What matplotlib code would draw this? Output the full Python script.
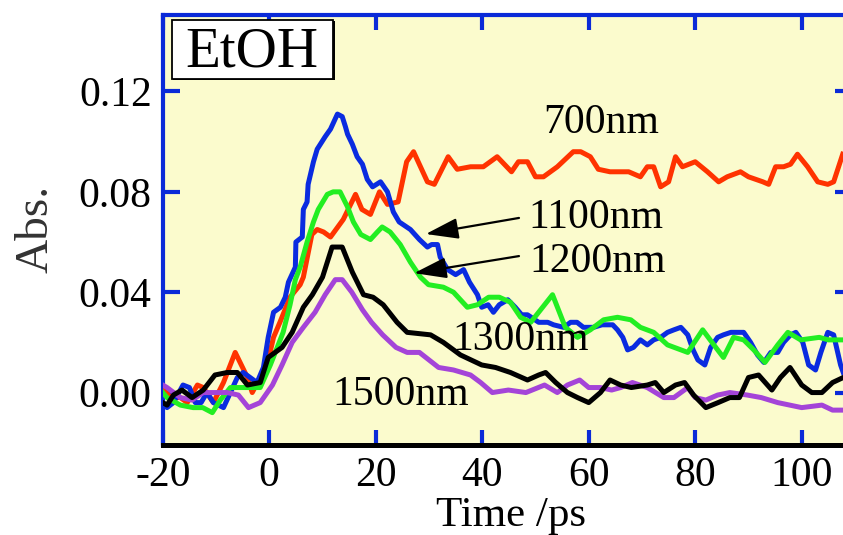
import matplotlib
matplotlib.use("Agg")
import matplotlib.pyplot as plt
from matplotlib.patches import Rectangle

plt.rcParams['font.family'] = ['Liberation Serif', 'DejaVu Serif']

# ---------------- data ----------------
t_700 = [-20, -18.6, -16.7, -15.4, -13.5, -12.4, -10.5, -8.6, -6.4, -4.1, -3.2, -1.7, -0.4, 0.8, 2.0,
         3.9, 5.8, 6.4, 8.0, 9.0, 10.2, 11.5, 13.9, 16.2, 17.4, 19.0, 20.7, 22.2, 24.2, 25.8, 27.1,
         29.7, 31.0, 33.6, 35.3, 37.8, 40.2, 42.8, 45.5, 46.8, 48.5, 50.0, 51.5, 54.1, 57.1, 58.5,
         60.3, 61.8, 64.0, 67.5, 69.7, 71.0, 72.2, 73.5, 75.0, 76.3, 77.6, 80.0, 82.3, 84.4, 86.0,
         88.5, 90.0, 92.7, 93.8, 95.1, 96.6, 97.9, 99.2, 101.1, 103.0, 104.9, 106.0, 107.7]
a_700 = [0.002, -0.002, -0.002, -0.004, 0.003, 0.002, -0.004, 0.004, 0.016, 0.006, 0.000, 0.006, 0.011,
         0.022, 0.028, 0.038, 0.043, 0.046, 0.063, 0.065, 0.064, 0.062, 0.069, 0.079, 0.073, 0.071,
         0.080, 0.075, 0.076, 0.092, 0.096, 0.084, 0.083, 0.094, 0.089, 0.090, 0.090, 0.094, 0.088,
         0.092, 0.092, 0.086, 0.086, 0.090, 0.096, 0.096, 0.094, 0.089, 0.088, 0.088, 0.086, 0.090,
         0.090, 0.082, 0.084, 0.094, 0.090, 0.092, 0.088, 0.084, 0.086, 0.088, 0.086, 0.084, 0.083,
         0.090, 0.090, 0.091, 0.095, 0.090, 0.084, 0.083, 0.084, 0.095]

t_1100 = [-20, -19.2, -18.0, -16.2, -15.0, -13.9, -12.8, -11.7, -10.5, -8.6, -7.3, -6.0, -4.9, -3.6,
          -2.3, -1.1, -0.2, 0.8, 2.1, 3.0, 3.6, 4.9, 5.0, 6.2, 6.4, 7.1, 7.3, 8.3, 9.0, 10.5, 11.5,
          12.8, 13.7, 14.3, 14.7, 15.6, 16.5, 17.5, 18.4, 19.4, 20.9, 22.2, 23.3, 24.4, 26.5, 28.2,
          29.7, 30.5, 31.6, 32.1, 33.5, 35.0, 36.5, 37.6, 39.1, 39.9, 41.1, 42.1, 43.2, 44.8, 46.2,
          47.4, 48.5, 50.6, 52.3, 53.4, 55.3, 56.6, 57.8, 59.0, 60.9, 62.5, 64.5, 65.4, 66.4, 67.3,
          68.4, 69.7, 71.0, 72.2, 73.5, 74.8, 76.0, 77.3, 78.6, 79.6, 80.5, 81.8, 82.9, 84.2, 85.3,
          86.7, 87.9, 89.1, 90.4, 91.7, 92.9, 94.2, 95.5, 96.6, 97.9, 98.9, 100.2, 101.3, 102.6,
          103.6, 104.9, 106.0, 107.3, 107.8]
a_1100 = [-0.004, -0.006, -0.004, 0.003, 0.002, -0.004, -0.004, 0.000, -0.004, -0.006, 0.000, 0.006,
          0.008, 0.006, 0.004, 0.010, 0.022, 0.032, 0.034, 0.038, 0.044, 0.050, 0.060, 0.062, 0.073,
          0.076, 0.083, 0.092, 0.097, 0.102, 0.105, 0.111, 0.110, 0.106, 0.103, 0.099, 0.094, 0.091,
          0.085, 0.082, 0.084, 0.080, 0.072, 0.068, 0.065, 0.061, 0.058, 0.059, 0.059, 0.054, 0.049,
          0.047, 0.049, 0.044, 0.039, 0.034, 0.035, 0.032, 0.035, 0.037, 0.034, 0.031, 0.031, 0.028,
          0.028, 0.027, 0.026, 0.028, 0.028, 0.026, 0.026, 0.027, 0.027, 0.025, 0.022, 0.017, 0.018,
          0.021, 0.019, 0.021, 0.022, 0.024, 0.025, 0.026, 0.023, 0.017, 0.013, 0.011, 0.018, 0.022,
          0.023, 0.024, 0.024, 0.024, 0.020, 0.015, 0.012, 0.016, 0.016, 0.020, 0.023, 0.024, 0.020,
          0.011, 0.009, 0.016, 0.024, 0.023, 0.011, 0.008]

t_1200 = [-20, -19.2, -16.7, -14.3, -12.5, -10.7, -9.2, -7.3, -5.5, -1.7, 0.2, 1.5, 2.6, 3.9, 4.9, 5.8,
          7.1, 8.3, 9.2, 10.9, 12.0, 13.3, 14.7, 15.8, 17.2, 19.0, 20.3, 21.2, 22.7, 24.6, 26.5, 28.4,
          29.9, 32.7, 34.6, 37.2, 39.1, 41.2, 43.2, 45.3, 47.2, 49.1, 53.2, 55.6, 57.9, 60.3, 62.8,
          65.4, 67.9, 69.7, 72.2, 74.8, 78.6, 81.4, 83.5, 85.3, 87.2, 89.1, 91.0, 93.1, 95.5, 97.4,
          99.8, 103.3, 105.0, 107.8]
a_1200 = [0.000, -0.002, -0.005, -0.006, -0.006, -0.008, -0.003, 0.002, 0.002, 0.002, 0.011, 0.018,
          0.024, 0.035, 0.045, 0.050, 0.060, 0.068, 0.073, 0.079, 0.080, 0.080, 0.074, 0.068, 0.063,
          0.061, 0.064, 0.066, 0.064, 0.059, 0.052, 0.046, 0.043, 0.042, 0.040, 0.034, 0.035, 0.038,
          0.038, 0.036, 0.030, 0.028, 0.039, 0.026, 0.022, 0.025, 0.029, 0.030, 0.029, 0.026, 0.024,
          0.019, 0.016, 0.025, 0.019, 0.014, 0.022, 0.021, 0.017, 0.012, 0.019, 0.024, 0.021, 0.022,
          0.021, 0.021]

t_1300 = [-20, -19.2, -18.0, -16.4, -14.5, -12.4, -10.2, -7.9, -6.0, -4.1, -1.7, -0.2, 2.4, 4.3, 6.4,
          8.1, 10.0, 11.8, 13.7, 15.6, 17.7, 19.5, 21.4, 24.0, 25.9, 30.3, 32.7, 35.9, 39.9, 42.5,
          45.3, 48.5, 50.6, 51.9, 53.8, 56.0, 57.9, 60.0, 62.2, 64.0, 66.0, 68.0, 71.0, 72.5, 74.1,
          76.3, 78.0, 79.7, 82.0, 84.3, 86.5, 88.3, 90.0, 91.9, 94.4, 96.0, 97.8, 100.0, 101.9,
          103.8, 105.8, 107.8]
a_1300 = [-0.004, -0.005, -0.001, 0.001, -0.002, 0.001, 0.007, 0.008, 0.008, 0.003, 0.004, 0.014,
          0.018, 0.024, 0.034, 0.039, 0.046, 0.058, 0.058, 0.048, 0.039, 0.038, 0.035, 0.028, 0.024,
          0.023, 0.020, 0.015, 0.011, 0.010, 0.008, 0.005, 0.007, 0.008, 0.004, 0.000, -0.002, -0.004,
          0.000, 0.005, 0.003, 0.002, 0.003, 0.004, 0.000, 0.003, 0.004, -0.001, -0.006, -0.004,
          -0.002, -0.002, 0.006, 0.007, 0.001, 0.006, 0.010, 0.003, 0.000, 0.000, 0.004, 0.006]

t_1500 = [-20, -19.2, -16.7, -14.5, -12.4, -10.2, -7.9, -5.8, -3.9, -1.7, 0.6, 2.4, 4.3, 6.4, 8.6,
          10.5, 12.4, 13.7, 15.5, 17.5, 19.2, 21.3, 23.8, 25.9, 28.2, 31.8, 34.6, 37.8, 39.7, 41.9,
          44.9, 48.2, 51.7, 54.1, 56.0, 58.3, 60.0, 62.2, 64.3, 66.0, 68.2, 71.0, 74.1, 76.0, 78.6,
          80.0, 82.0, 84.2, 86.5, 89.8, 92.4, 95.5, 100.0, 103.8, 105.8, 107.8]
a_1500 = [0.003, 0.002, -0.002, -0.003, 0.000, 0.000, 0.000, -0.001, -0.006, -0.004, 0.003, 0.011,
          0.020, 0.026, 0.032, 0.039, 0.045, 0.045, 0.040, 0.033, 0.028, 0.023, 0.018, 0.016, 0.016,
          0.010, 0.009, 0.007, 0.004, 0.000, 0.001, 0.000, 0.003, 0.000, 0.003, 0.005, 0.002, 0.002,
          0.001, 0.002, 0.004, 0.002, -0.002, -0.002, 0.002, -0.002, -0.003, -0.001, 0.000, -0.001,
          -0.002, -0.004, -0.006, -0.005, -0.007, -0.007]

x_ticks = [-20, 0, 20, 40, 60, 80, 100]
y_ticks = [0.00, 0.04, 0.08, 0.12]
y_ticklabels = ['0.00', '0.04', '0.08', '0.12']

# ---------------- styling ----------------
BLUE_AX = '#0a2ad8'
BG = '#fbfbcd'
C_700 = '#ff3300'
C_1100 = '#0a2be0'
C_1200 = '#22ee22'
C_1300 = '#000000'
C_1500 = '#a444d8'
LW = 3.6

fig = plt.figure(figsize=(8.43, 5.35), dpi=100)
ax = fig.add_axes([0.1931, 0.1673, 0.8176, 0.8047])
ax.set_facecolor(BG)

ax.plot(t_700, a_700, color=C_700, lw=LW, zorder=3)
ax.plot(t_1100, a_1100, color=C_1100, lw=LW, zorder=4)
ax.plot(t_1200, a_1200, color=C_1200, lw=LW, zorder=5)
ax.plot(t_1300, a_1300, color=C_1300, lw=LW, zorder=6)
ax.plot(t_1500, a_1500, color=C_1500, lw=LW, zorder=5.5)

ax.set_xlim(-20, 109.45)
ax.set_ylim(-0.0211, 0.1505)
ax.set_xticks(x_ticks)
ax.set_xticklabels([str(v) for v in x_ticks])
ax.set_yticks(y_ticks)
ax.set_yticklabels(y_ticklabels)

for s in ['left', 'top']:
    ax.spines[s].set_color(BLUE_AX)
    ax.spines[s].set_linewidth(3)
ax.spines['bottom'].set_color('black')
ax.spines['bottom'].set_linewidth(3.6)
ax.spines['right'].set_visible(False)

ax.tick_params(axis='both', direction='in', color=BLUE_AX, width=3, labelsize=30)
ax.tick_params(axis='x', top=True, bottom=True, length=11, pad=8)
ax.tick_params(axis='y', left=True, right=True, length=12, pad=8)

# EtOH box
ax.add_patch(Rectangle((-18.0, 0.1244), 30.3, 0.0236, transform=ax.transData,
                       facecolor='black', edgecolor='black', lw=0, zorder=7))
ax.add_patch(Rectangle((-18.3, 0.1250), 30.3, 0.0236, transform=ax.transData,
                       facecolor='white', edgecolor='black', lw=1.3, zorder=8))
ax.text(-3.2, 0.1298, 'EtOH', fontsize=41, ha='center', va='baseline', zorder=9)

# labels
ax.text(62.3, 0.1035, '700nm', fontsize=30, ha='center', va='baseline', zorder=9)
ax.text(61.4, 0.0656, '1100nm', fontsize=30, ha='center', va='baseline', zorder=9)
ax.text(61.6, 0.0482, '1200nm', fontsize=30, ha='center', va='baseline', zorder=9)
ax.text(47.2, 0.0169, '1300nm', fontsize=30, ha='center', va='baseline', zorder=9)
ax.text(24.6, -0.0050, '1500nm', fontsize=30, ha='center', va='baseline', zorder=9)

arrow_kw = dict(arrowstyle='-|>,head_length=1.0,head_width=0.32', lw=1.6, color='black',
                shrinkA=0, shrinkB=0, mutation_scale=20)
ax.annotate('', xy=(29.4, 0.0632), xytext=(46.9, 0.0696), arrowprops=arrow_kw, zorder=10)
ax.annotate('', xy=(27.2, 0.0476), xytext=(46.9, 0.0544), arrowprops=arrow_kw, zorder=10)

fig.text(511 / 843, (535 - 526) / 535, 'Time /ps', fontsize=31, ha='center', va='baseline')
fig.text(36 / 843, 1 - 229 / 535, 'Abs.', fontsize=34, rotation=90, ha='center', va='center',
         color='#333333')

fig.savefig('out.png', dpi=100)
